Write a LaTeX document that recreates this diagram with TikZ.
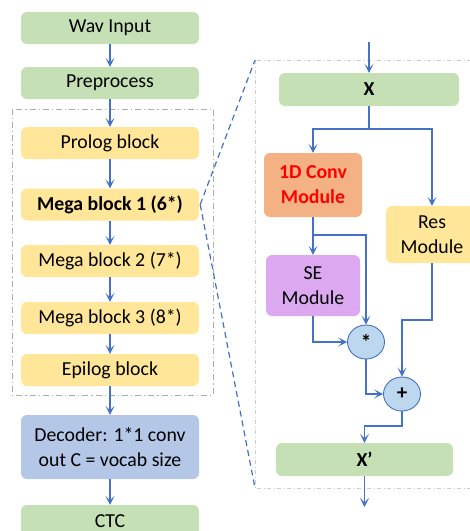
\documentclass[tikz,border=0pt]{standalone}
\usepackage{fontspec}
\setmainfont{Carlito}
\usepackage{xcolor}
\usepackage{tikz}
\usetikzlibrary{shapes,arrows,positioning,calc,arrows.meta}

\definecolor{boxgreen}{HTML}{C5E0B4}
\definecolor{boxyellow}{HTML}{FFE699}
\definecolor{boxblue}{HTML}{B4C7E7}
\definecolor{boxorange}{HTML}{F4B183}
\definecolor{boxpurple}{HTML}{DCA9F0}
\definecolor{opfill}{HTML}{BDD7EE}
\definecolor{linkblue}{HTML}{4472C4}

\begin{document}
\begin{tikzpicture}[x=1pt, y=-1pt,
    box/.style={rounded corners=6pt, inner sep=0pt, align=center,
        font=\fontsize{19.8}{25}\selectfont},
    op/.style={ellipse, draw=linkblue, fill=opfill, line width=0.9pt,
        minimum width=37pt, minimum height=34pt, inner sep=0pt,
        font=\fontsize{21}{24}\selectfont\bfseries},
    link/.style={linkblue, line width=1.2pt,
        -{Stealth[length=9pt, width=9pt, inset=4.5pt]}},
    group/.style={gray!65, line width=1pt, dash pattern=on 6pt off 3pt on 1.2pt off 3pt}]
    \useasboundingbox (0,0) rectangle (470,531);
    \clip (0,0) rectangle (470,531);

    % backbone
    \node[box, fill=boxgreen, minimum width=178pt, minimum height=32pt] (wav) at (110,28) {Wav Input};
    \node[box, fill=boxgreen, minimum width=178pt, minimum height=32pt] (prep) at (110,83) {Preprocess};
    \draw[group] (12,109) rectangle (213,395);
    \node[box, fill=boxyellow, minimum width=178pt, minimum height=32pt] (prolog) at (110,143) {Prolog block};
    \node[box, fill=boxyellow, minimum width=178pt, minimum height=32pt] (mb1) at (110,204.5) {\bfseries Mega block 1 (6*)};
    \node[box, fill=boxyellow, minimum width=178pt, minimum height=32pt] (mb2) at (110,261) {Mega block 2 (7*)};
    \node[box, fill=boxyellow, minimum width=178pt, minimum height=32pt] (mb3) at (110,318) {Mega block 3 (8*)};
    \node[box, fill=boxyellow, minimum width=178pt, minimum height=32pt] (epilog) at (110,370) {Epilog block};
    \node[box, fill=boxblue, minimum width=178pt, minimum height=64pt] (dec) at (110,447) {Decoder: 1*1 conv\\out C = vocab size};
    \node[box, fill=boxgreen, minimum width=178pt, minimum height=32pt] (ctc) at (110,521) {CTC};

    \draw[link] (wav) -- (prep);
    \draw[link] (prep) -- (prolog);
    \draw[link] (prolog) -- (mb1);
    \draw[link] (mb1) -- (mb2);
    \draw[link] (mb2) -- (mb3);
    \draw[link] (mb3) -- (epilog);
    \draw[link] (epilog) -- (dec);
    \draw[link] (dec) -- (ctc);

    % mega block detail
    \coordinate (pnw) at (255,60);
    \coordinate (psw) at (255,488);
    \draw[gray!40, line width=0.9pt, dash pattern=on 4pt off 2.5pt on 1pt off 2.5pt] (pnw) rectangle (490,488);
    \draw[linkblue, line width=1.2pt, dash pattern=on 6pt off 4pt] ($(mb1.east)+(1,0)$) -- (pnw);
    \draw[linkblue, line width=1.2pt, dash pattern=on 6pt off 4pt] ($(mb1.east)+(1,0)$) -- (psw);

    \coordinate (in) at (369,42);
    \node[box, fill=boxgreen, minimum width=180pt, minimum height=33pt] (x) at (369,89.5) {\bfseries X};
    \node[box, fill=boxorange, text=red, minimum width=98pt, minimum height=64pt] (conv) at (313,185) {\bfseries 1D Conv\\\bfseries Module};
    \node[box, fill=boxyellow, minimum width=92pt, minimum height=57pt] (res) at (432,234.5) {Res\\Module};
    \node[box, fill=boxpurple, minimum width=94pt, minimum height=61pt] (se) at (313,285.5) {SE\\Module};
    \node[op] (mul) at (366,342) {*};
    \node[op] (add) at (402,394) {+};
    \node[box, fill=boxgreen, minimum width=177pt, minimum height=33pt] (xp) at (364.5,459.5) {\bfseries X’};
    \coordinate (out) at (364.5,507);

    \coordinate (xs) at (369,129);
    \coordinate (cs) at (313,235);
    \coordinate (rb) at (432,320);
    \coordinate (ab) at (402,426);

    \draw[link] (in) -- (x);
    \draw[link] (x.south) -- (xs) -| (conv.north);
    \draw[link] (xs) -| (res.north);
    \draw[link] (conv) -- (se);
    \draw[link] (cs) -| (mul.north);
    \draw[link] (se.south) |- (mul.west);
    \draw[link] (res.south) -- (rb) -| (add.north);
    \draw[link] (mul.south) |- (add.west);
    \draw[link] (add.south) -- (ab) -| (xp.north);
    \draw[link] (xp) -- (out);
\end{tikzpicture}
\end{document}
